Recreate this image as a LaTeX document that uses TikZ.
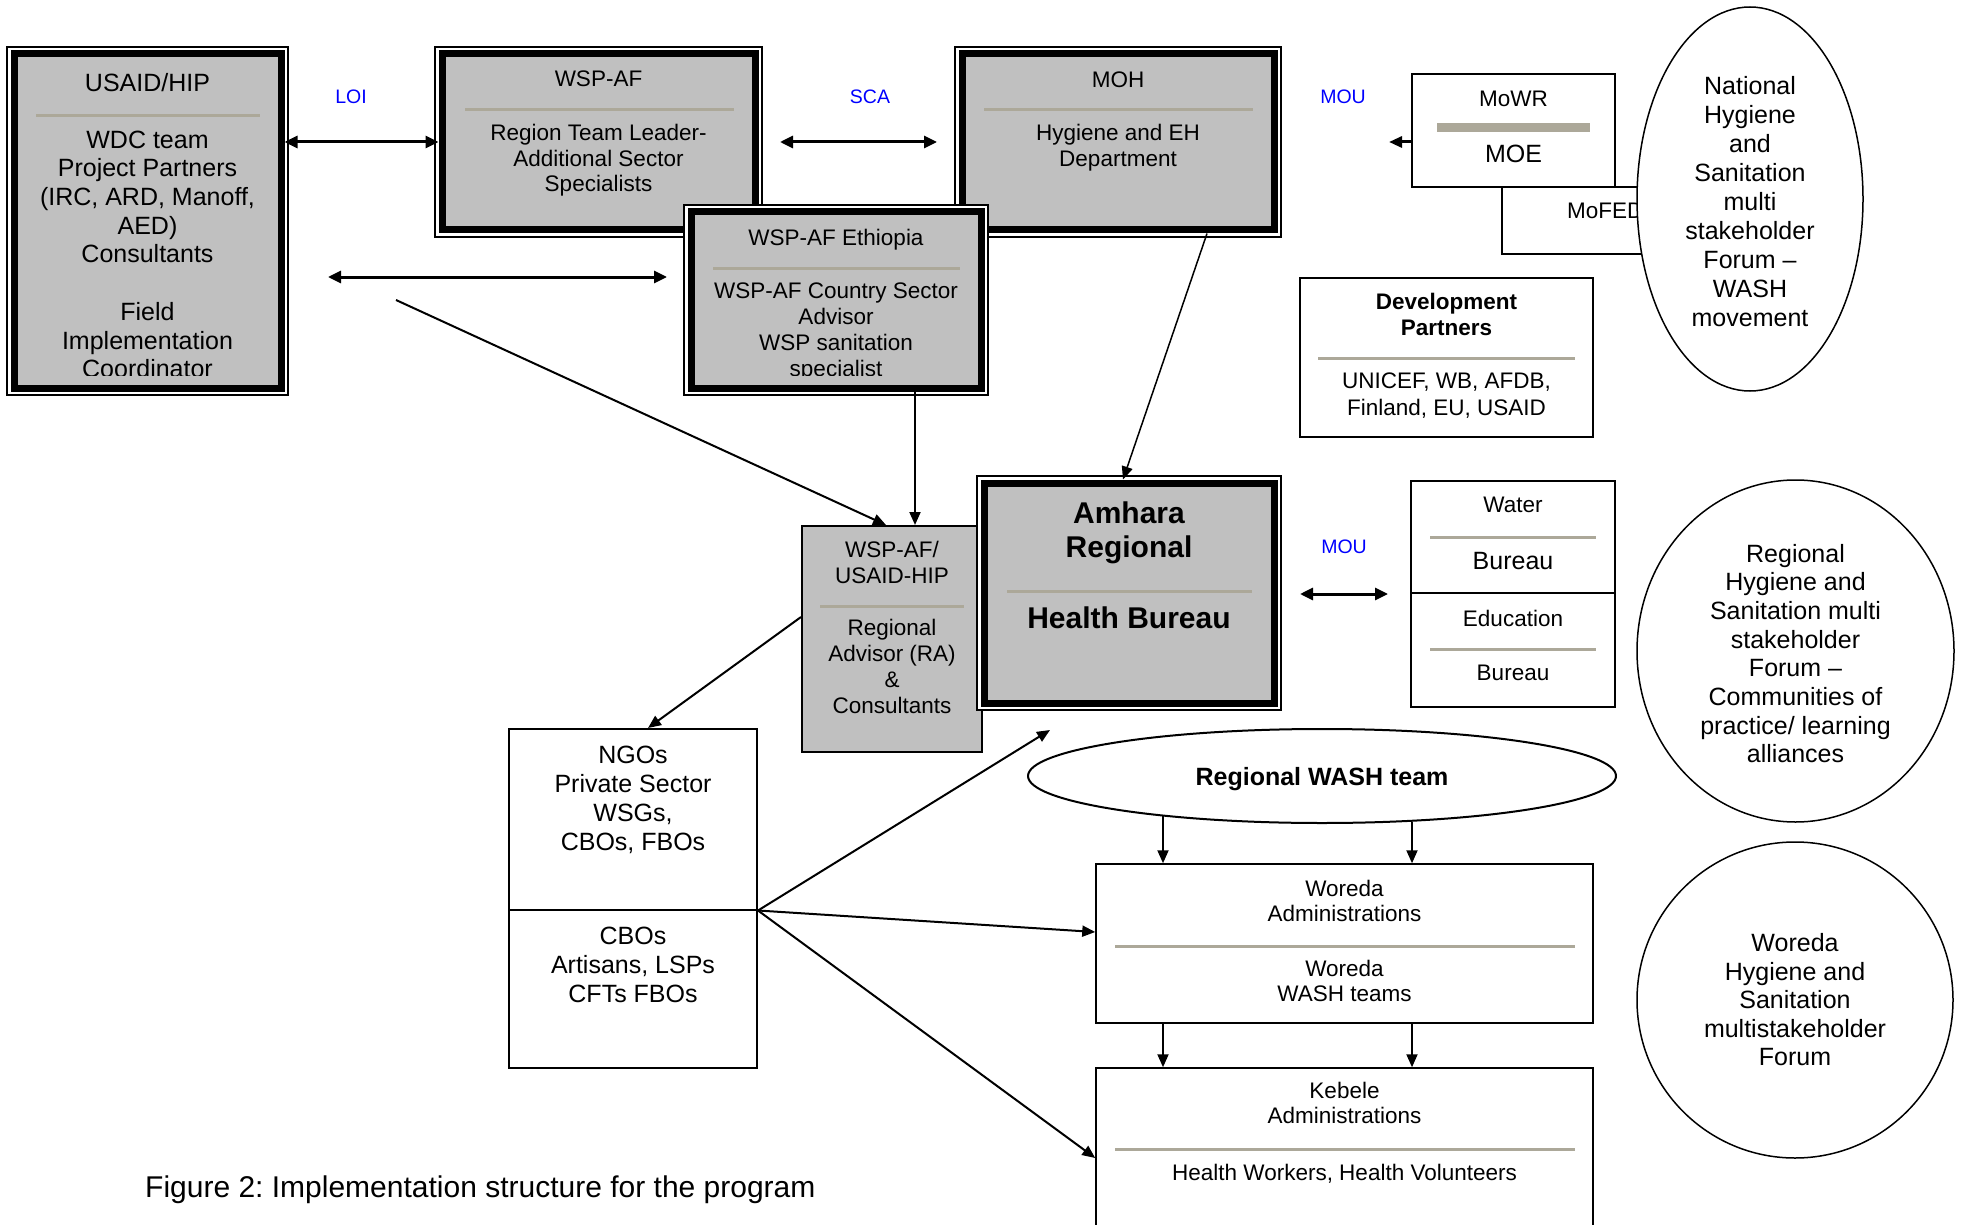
\documentclass[tikz,border=0pt]{standalone}
\usepackage{fontspec}
\setmainfont{Liberation Sans}
\usetikzlibrary{arrows.meta,shapes.geometric}
\definecolor{boxgray}{RGB}{192,192,192}
\definecolor{sepcol}{RGB}{172,168,153}
\definecolor{lblblue}{RGB}{0,0,255}
\newcommand\fs[2]{\fontsize{#1}{#2}\selectfont}
\newcommand\T{\rule{0pt}{0.75em}}
\newcommand\TT{\rule{0pt}{0.93em}}
\frenchspacing
\begin{document}
\begin{tikzpicture}[x=1pt,y=-1pt,
  dframe/.style={draw, line width=1.5pt, fill=white},
  dbox/.style={draw, line width=7pt, fill=boxgray, inner sep=0pt, rectangle},
  tbox/.style={draw, line width=2pt, fill=white, inner sep=0pt, rectangle},
  txt/.style={inner sep=0pt, anchor=north, align=center},
  sepl/.style={draw=sepcol, line width=3pt},
  arr/.style={-{Triangle[length=13pt,width=11pt]}, line width=2pt},
  darr/.style={{Triangle[length=13pt,width=12pt]}-{Triangle[length=13pt,width=12pt]}, line width=3pt},
  lbl/.style={text=lblblue, inner sep=0pt, font=\fs{19.5}{23}},
  ell/.style={ellipse, draw, line width=2pt, fill=white, inner sep=0pt, align=center}
]
\useasboundingbox (0,0) rectangle (1965,1225);

% USAID/HIP
\draw[dframe] (7,47) rectangle (288,395);
\node[dbox, minimum width=267, minimum height=334] (usaid) at (147.5,221) {};
\node[txt, font=\fs{25}{28.7}] (usaidt) at (147.5,72.2) {\T USAID/HIP};
\draw[sepl] (36,116) -- (260,116);
\begin{scope}
\clip (17.5,57.5) rectangle (277.5,375);
\node[txt, font=\fs{25}{28.7}] (usaidb) at (147.5,129.2) {\T WDC team\\Project Partners\\(IRC, ARD, Manoff,\\AED)\\Consultants\\\mbox{}\\Field\\Implementation\\Coordinator};
\end{scope}

% WSP-AF
\draw[dframe] (435,47) rectangle (762,237);
\node[dbox, minimum width=313, minimum height=176] (wspaf) at (598.5,142) {};
\node[txt, font=\fs{22.5}{25.8}] (wspaft) at (598.5,69.2) {\T WSP-AF};
\draw[sepl] (465,110) -- (734,110);
\node[txt, font=\fs{22.5}{25.8}] (wspafb) at (598.5,123.2) {\T Region Team Leader-\\Additional Sector\\Specialists};

% MOH
\draw[dframe] (955,47) rectangle (1281,237);
\node[dbox, minimum width=312, minimum height=176] (moh) at (1118,142) {};
\node[txt, font=\fs{22.5}{26}] (moht) at (1118,70.2) {\T MOH};
\draw[sepl] (984,110) -- (1253,110);
\node[txt, font=\fs{22.5}{26}] (mohb) at (1118,123.2) {\T Hygiene and EH\\Department};

% WSP-AF Ethiopia
\draw[dframe] (684,205) rectangle (988,395);
\node[dbox, minimum width=290, minimum height=176] (eth) at (836,300) {};
\node[txt, font=\fs{22.5}{26}] (etht) at (836,228.2) {\T WSP-AF Ethiopia};
\draw[sepl] (713,268) -- (960,268);
\begin{scope}
\clip (694.5,215.5) rectangle (977.5,375);
\node[txt, font=\fs{22.5}{26}] (ethb) at (836,281.2) {\T WSP-AF Country Sector\\Advisor\\WSP sanitation\\specialist};
\end{scope}

% MoFED, MoWR/MOE
\node[tbox, minimum width=198, minimum height=67] (mofed) at (1601,220.5) {};
\node[inner sep=0pt, anchor=north west, font=\fs{22.5}{26}] (mofedt) at (1567,201.2) {\T MoFED};
\node[tbox, minimum width=203, minimum height=113] (mowr) at (1513.5,130.5) {};
\node[txt, font=\fs{22.5}{26}] (mowrt) at (1513.5,89.2) {\T MoWR};
\draw[draw=sepcol, line width=9pt] (1437,127.5) -- (1590,127.5);
\node[txt, font=\fs{25}{29}] (moet) at (1513.5,143.2) {\T MOE};

% National ellipse
\node[ell, line width=1.5pt, minimum width=226, minimum height=384, font=\fs{25}{29}] (nat) at (1750,199) {\TT National\\Hygiene\\and\\Sanitation\\multi\\stakeholder\\Forum –\\WASH\\movement};

% Development partners
\node[draw, line width=1.5pt, minimum width=293, minimum height=159, inner sep=0pt] (dev) at (1446.5,357.5) {};
\node[txt, font=\bfseries\fs{22.5}{26}] (devt) at (1446.5,292.2) {\T Development\\Partners};
\draw[sepl] (1318,358) -- (1575,358);
\node[txt, font=\fs{22.5}{27}] (devb) at (1446.5,371.2) {\T UNICEF, WB, AFDB,\\Finland, EU, USAID};

% WSP-AF/USAID-HIP
\node[draw, line width=2pt, fill=boxgray, minimum width=180, minimum height=226, inner sep=0pt] (wsphip) at (892,639) {};
\node[txt, font=\fs{22.5}{26}] (wsphipt) at (892,540.2) {\T WSP-AF/\\USAID-HIP};
\draw[sepl] (820,606) -- (964,606);
\node[txt, font=\fs{22.5}{26}] (wsphipb) at (892,618.2) {\T Regional\\Advisor (RA)\\\&\\Consultants};

% Amhara
\draw[dframe] (977,476) rectangle (1281,710);
\node[dbox, minimum width=290, minimum height=220] (amhara) at (1129,593) {};
\node[txt, font=\bfseries\fs{30}{34}] (amt) at (1129,501.2) {\T Amhara\\Regional};
\draw[sepl] (1007,591) -- (1252,591);
\node[txt, font=\bfseries\fs{30}{34}] (amb) at (1129,606.2) {\T Health Bureau};

% Water / Education
\node[tbox, minimum width=204, minimum height=112] (water) at (1513,537) {};
\node[tbox, minimum width=204, minimum height=114] (edu) at (1513,650) {};
\node[txt, font=\fs{22.5}{26}] (watert) at (1513,495.2) {\T Water};
\draw[sepl] (1430,537) -- (1596,537);
\node[txt, font=\fs{25}{29}] (waterb) at (1513,550.2) {\T Bureau};
\node[txt, font=\fs{22.5}{26}] (edut) at (1513,609.2) {\T Education};
\draw[sepl] (1430,649) -- (1596,649);
\node[txt, font=\fs{22.5}{26}] (edub) at (1513,663.2) {\T Bureau};

% Regional and Woreda forums
\node[ell, line width=1.5pt, minimum width=317, minimum height=342, font=\fs{25}{28.7}] (regf) at (1795.5,651) {\TT Regional\\Hygiene and\\Sanitation multi\\stakeholder\\Forum –\\Communities of\\practice/ learning\\alliances};
\node[ell, line width=1.5pt, minimum width=316, minimum height=316, font=\fs{25}{28.5}] (worf) at (1795,1000) {Woreda\\Hygiene and\\Sanitation\\multistakeholder\\Forum};

% Regional WASH team
\node[ell, minimum width=588, minimum height=94, text depth=0pt, font=\bfseries\fs{25}{29}] (wash) at (1322,776) {Regional WASH team};

% NGOs
\node[tbox, minimum width=248, minimum height=180.5] (ngotop) at (633,819.25) {};
\node[tbox, minimum width=248, minimum height=158.5] (ngobot) at (633,988.75) {};
\node[txt, font=\fs{25}{29}] (ngott) at (633,744.2) {\T NGOs\\Private Sector\\WSGs,\\CBOs, FBOs};
\node[txt, font=\fs{25}{29}] (ngobt) at (633,925.2) {\T CBOs\\Artisans, LSPs\\CFTs FBOs};

% Woreda / Kebele
\node[draw, line width=1.5pt, minimum width=497, minimum height=159, inner sep=0pt] (woreda) at (1344.5,943.5) {};
\node[txt, font=\fs{22.5}{25}] (woredat) at (1344.5,879.2) {\T Woreda\\Administrations};
\draw[sepl] (1115,946) -- (1575,946);
\node[txt, font=\fs{22.5}{25}] (woredab) at (1344.5,959.2) {\T Woreda\\WASH teams};
\node[draw, line width=1.5pt, minimum width=497, minimum height=172, inner sep=0pt] (kebele) at (1344.5,1154) {};
\node[txt, font=\fs{22.5}{25}] (kebelet) at (1344.5,1081.2) {\T Kebele\\Administrations};
\draw[sepl] (1115,1149) -- (1575,1149);
\node[txt, font=\fs{22.5}{25}] (kebeleb) at (1344.5,1163.2) {\T Health Workers, Health Volunteers};

% labels
\node[lbl] (loi) at (351,96.5) {LOI};
\node[lbl] (sca) at (870,96.5) {SCA};
\node[lbl] (mouA) at (1343,96.5) {MOU};
\node[lbl] (mouB) at (1344,547) {MOU};

% caption
\node[anchor=base west, inner sep=0pt, font=\fs{30}{34}] (cap) at (145,1197) {Figure 2: Implementation structure for the program};

% connectors
\coordinate (yl) at (0,142);
\draw[darr] (usaid.east |- yl) -- (wspaf.west |- yl);
\coordinate (sca1) at (780,142);
\coordinate (sca2) at (937,142);
\draw[darr] (sca1) -- (sca2);
\coordinate (mouT) at (1389,142);
\draw[arr, line width=3pt] (mowr.west |- yl) -- (mouT);
\coordinate (h1) at (328,277);
\coordinate (h2) at (667,277);
\draw[darr] (h1) -- (h2);
\coordinate (d1) at (396,300);
\draw[arr] (d1) -- ([xshift=-6pt]wsphip.north);
\coordinate (v1) at (915,0);
\draw[arr] (eth.south -| v1) -- (wsphip.north -| v1);
\coordinate (m1) at (1207,0);
\draw[arr, line width=1.5pt] (moh.south -| m1) -- ([xshift=-6pt]amhara.north);
\coordinate (a1) at (1300,594);
\coordinate (a2) at (1388,594);
\draw[darr] (a1) -- (a2);
\coordinate (g1) at (0,617);
\draw[arr] (wsphip.west |- g1) -- ([xshift=15pt]ngotop.north);
\coordinate (f1) at (1050,730);
\coordinate (f2) at (0,932);
\coordinate (f3) at (0,1158);
\draw[arr] (ngotop.south east) -- (f1);
\draw[arr] (ngotop.south east) -- (woreda.west |- f2);
\draw[arr] (ngotop.south east) -- (kebele.west |- f3);
\coordinate (w1) at (1163,0);
\coordinate (w2) at (1412,0);
\draw[arr] (wash.194 -| w1) -- (woreda.north -| w1);
\draw[arr] (wash.334 -| w2) -- (woreda.north -| w2);
\draw[arr] (woreda.south -| w1) -- (kebele.north -| w1);
\draw[arr] (woreda.south -| w2) -- (kebele.north -| w2);
\end{tikzpicture}
\end{document}
